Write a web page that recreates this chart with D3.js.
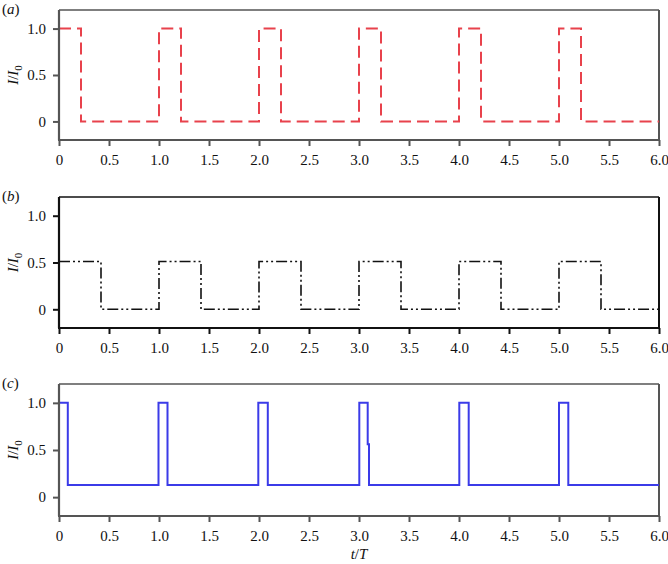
<!DOCTYPE html>
<html><head><meta charset="utf-8">
<script src="https://cdn.jsdelivr.net/npm/d3@7"></script>
<style>
body{margin:0;background:#fff;}
svg text{font-family:"Liberation Serif","DejaVu Serif",serif;}
</style></head>
<body><svg id="c" width="668" height="564"></svg>
<script>
// ---- data ----
const xTicks = [0,0.5,1.0,1.5,2.0,2.5,3.0,3.5,4.0,4.5,5.0,5.5,6.0];
const xTickLabels = ["0","0.5","1.0","1.5","2.0","2.5","3.0","3.5","4.0","4.5","5.0","5.5","6.0"];
const yTicks = [0,0.5,1.0];
const yTickLabels = ["0","0.5","1.0"];
// step series: [t, value] breakpoints (value holds until next t)
const seriesA = [[0,1],[0.22,0],[1.0,1],[1.22,0],[2.0,1],[2.22,0],[3.0,1],[3.22,0],[4.0,1],[4.22,0],[5.0,1],[5.22,0],[6.0,0]];
const seriesB = [[0,0.51],[0.42,0],[1.0,0.51],[1.42,0],[2.0,0.51],[2.42,0],[3.0,0.51],[3.42,0],[4.0,0.51],[4.42,0],[5.0,0.51],[5.42,0],[6.0,0]];
const seriesC = [[0,1],[0.088,0.13],[0.995,1],[1.085,0.13],[1.993,1],[2.088,0.13],[3.003,1],[3.087,0.56],[3.1,0.13],[4.003,1],[4.097,0.13],[5.0,1],[5.093,0.13],[6.0,0.13]];
const panelLabels = ["a","b","c"];

const svg = d3.select("#c");
const left = 59, right = 659;
const panels = [
  {top:10, bottom:140, data:seriesA, color:"#e8424c", width:2, dash:"12,6", frame:"#555"},
  {top:197, bottom:328, data:seriesB, color:"#111", width:1.6, dash:"11,3,2,3,2,3", frame:"#111"},
  {top:384, bottom:516, data:seriesC, color:"#3b3be8", width:2, dash:null, frame:"#555"}
];

panels.forEach((p,i)=>{
  const x = d3.scaleLinear().domain([0,6]).range([left,right]);
  const y = d3.scaleLinear().domain([-0.2,1.2]).range([p.bottom,p.top]);
  const g = svg.append("g");
  // frame top/right
  g.append("line").attr("x1",left).attr("x2",right).attr("y1",p.top).attr("y2",p.top)
    .attr("stroke",p.frame).attr("stroke-width",1.5);
  g.append("line").attr("x1",right).attr("x2",right).attr("y1",p.top).attr("y2",p.bottom)
    .attr("stroke",p.frame).attr("stroke-width",2);
  // line
  const line = d3.line().x(d=>x(d[0])).y(d=>y(d[1])).curve(d3.curveStepAfter);
  const path = g.append("path").datum(p.data).attr("d",line).attr("fill","none")
    .attr("stroke",p.color).attr("stroke-width",p.width).attr("stroke-linejoin","miter");
  if(p.dash) path.attr("stroke-dasharray",p.dash);
  // axes
  const xa = d3.axisBottom(x).tickValues(xTicks).tickFormat((d,k)=>xTickLabels[k]).tickSizeOuter(0).tickSizeInner(6).tickPadding(8);
  const gx = g.append("g").attr("transform",`translate(0,${p.bottom})`).call(xa);
  const ya = d3.axisLeft(y).tickValues(yTicks).tickFormat((d,k)=>yTickLabels[k]).tickSizeOuter(0).tickSizeInner(6).tickPadding(7);
  const gy = g.append("g").attr("transform",`translate(${left},0)`).call(ya);
  [gx,gy].forEach(a=>{
    a.select(".domain").attr("stroke",p.frame).attr("stroke-width",2.2);
    a.selectAll(".tick line").attr("stroke",p.frame).attr("stroke-width",2);
    a.selectAll(".tick text").attr("font-size",15).attr("fill","#111")
      .attr("font-family","'Liberation Serif',serif");
  });
  gx.select(".domain").attr("d",`M${left-1},0H${right+1}`);
  gy.select(".domain").attr("d",`M0,${p.top}V${p.bottom}`);
  // y label
  const yl = g.append("text").attr("transform",`translate(18,${y(0.5)}) rotate(-90)`)
    .attr("text-anchor","middle").attr("font-size",15).attr("fill","#111");
  yl.append("tspan").attr("font-style","italic").text("I");
  yl.append("tspan").text("/");
  yl.append("tspan").attr("font-style","italic").text("I");
  yl.append("tspan").attr("font-size",11).attr("dy",4).text("0");
  // panel label
  const pl = g.append("text").attr("x",2).attr("y",p.top+4).attr("font-size",15).attr("fill","#111");
  pl.append("tspan").text("(");
  pl.append("tspan").attr("font-style","italic").text(panelLabels[i]);
  pl.append("tspan").text(")");
});

const xl = svg.append("text").attr("x",359).attr("y",559).attr("text-anchor","middle")
  .attr("font-size",15).attr("fill","#111");
xl.append("tspan").attr("font-style","italic").text("t");
xl.append("tspan").text("/");
xl.append("tspan").attr("font-style","italic").text("T");
</script></body></html>
